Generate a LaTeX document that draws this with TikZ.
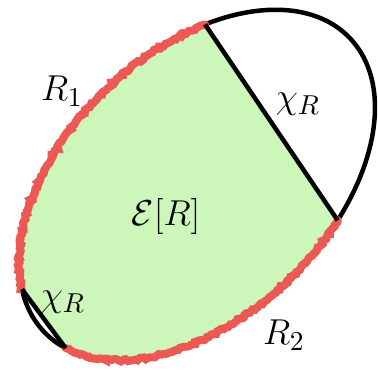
\documentclass[tikz,border=0pt]{standalone}
\usepackage{amsmath,amssymb}
\usetikzlibrary{decorations.pathmorphing}
\definecolor{regiongreen}{RGB}{205,247,186}
\definecolor{roughred}{RGB}{236,88,84}

\begin{document}
\begin{tikzpicture}[
  x=0.4pt, y=0.4pt,
  every node/.style={font=\fontsize{15.8}{19}\selectfont},
  bound/.style={line width=1.8pt, line join=round},
  rough/.style={roughred, line width=3.2pt, line cap=round,
    decorate, decoration={random steps, segment length=1pt, amplitude=0.5pt}},
]

\def\ra{212}
\def\rb{132}

\useasboundingbox (0,0) rectangle (378,376);

%% ── points where the cuts meet the boundary ──────────────────────────────
\begin{scope}[shift={(197,191)}, rotate=44]
  \coordinate (top) at ({\ra*cos(56.4)}, {\rb*sin(56.4)});
  \coordinate (rgt) at ({\ra*cos(-68.8)}, {\rb*sin(-68.8)});
  \coordinate (bot) at ({\ra*cos(191.4)}, {\rb*sin(191.4)});
  \coordinate (lft) at ({\ra*cos(159.3)}, {\rb*sin(159.3)});

  %% region E[R]
  \fill[regiongreen] (top) arc[start angle=56.4, end angle=159.3, x radius=\ra, y radius=\rb]
    -- (bot) arc[start angle=191.4, end angle=291.2, x radius=\ra, y radius=\rb] -- cycle;

  %% outer boundary
  \draw[bound] (0,0) ellipse[x radius=\ra, y radius=\rb];

  %% R_1 and R_2
  \draw[rough] (top) arc[start angle=56.4, end angle=159.3, x radius=\ra, y radius=\rb];
  \draw[rough] (bot) arc[start angle=191.4, end angle=291.2, x radius=\ra, y radius=\rb];
\end{scope}

%% the two cuts
\draw[bound] (top) -- (rgt);
\draw[bound] (lft) -- (bot);

\node (rone)   at (62,285)  {$R_1$};
\node (rtwo)   at (284,41)  {$R_2$};
\node (cutup)  at (298,272) {$\chi_R$};
\node (cutlow) at (63,74)   {$\chi_R$};
\node (ent)    at (166,160) {$\mathcal{E}[R]$};

\end{tikzpicture}
\end{document}
